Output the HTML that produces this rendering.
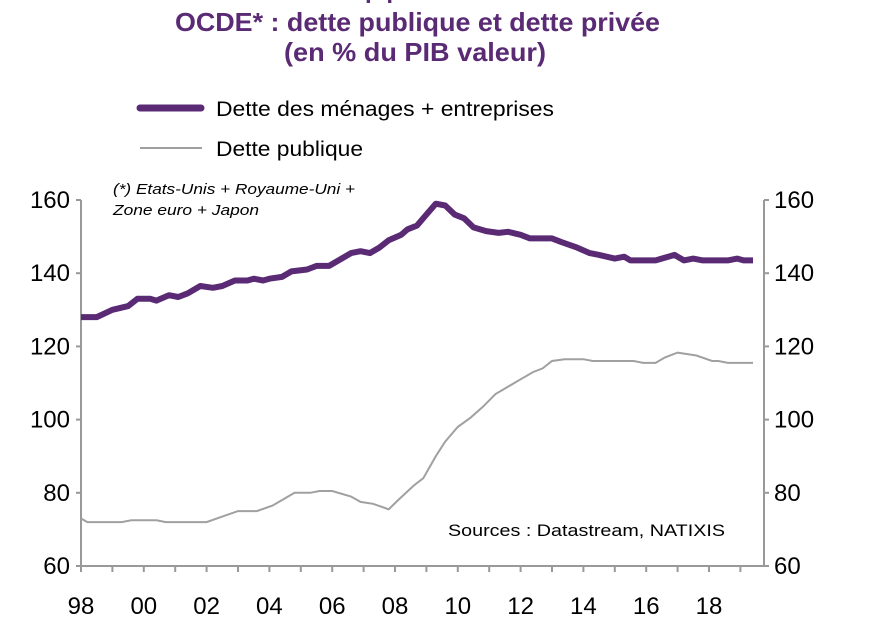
<!DOCTYPE html>
<html><head><meta charset="utf-8"><style>
body{margin:0;background:#fff;}
svg{display:block;font-family:"Liberation Sans",Arial,sans-serif;}
</style></head><body>
<svg id="s" width="874" height="632" viewBox="0 0 874 632">
<text x="365" y="-2" font-size="24" font-weight="bold" fill="#5a2a74">p p</text>
<text x="175" y="31" font-size="26" font-weight="bold" fill="#5a2a74" textLength="485" lengthAdjust="spacingAndGlyphs">OCDE* : dette publique et dette privée</text>
<text x="284" y="61" font-size="26" font-weight="bold" fill="#5a2a74" textLength="262" lengthAdjust="spacingAndGlyphs">(en % du PIB valeur)</text>
<line x1="140" y1="108" x2="201" y2="108" stroke="#5a2a74" stroke-width="7" stroke-linecap="round"/>
<text x="216" y="116" font-size="21" fill="#000" textLength="338" lengthAdjust="spacingAndGlyphs">Dette des ménages + entreprises</text>
<line x1="140" y1="148" x2="202" y2="148" stroke="#a0a0a0" stroke-width="2"/>
<text x="216" y="156" font-size="21" fill="#000" textLength="147" lengthAdjust="spacingAndGlyphs">Dette publique</text>
<text x="113" y="194" font-size="15" font-style="italic" fill="#000" textLength="242" lengthAdjust="spacingAndGlyphs">(*) Etats-Unis + Royaume-Uni +</text>
<text x="113" y="215" font-size="15" font-style="italic" fill="#000" textLength="146" lengthAdjust="spacingAndGlyphs">Zone euro + Japon</text>
<text x="448" y="536" font-size="17" fill="#000" textLength="277" lengthAdjust="spacingAndGlyphs">Sources  : Datastream,  NATIXIS</text>
<g id="ax" stroke="#999" stroke-width="2" fill="none"></g>
<g id="lbl" font-size="24" fill="#000"></g>
<polyline id="g" fill="none" stroke="#a0a0a0" stroke-width="2"/>
<polyline id="p" fill="none" stroke="#5a2a74" stroke-width="6" stroke-linejoin="round"/>
</svg>
<script>
var X=function(t){return 81+(t-1998)*31.4},Y=function(v){return 566-(v-60)*3.66};
var ax=document.getElementById('ax'),lb=document.getElementById('lbl'),h='',l='';
h+='<line x1="81" y1="200" x2="81" y2="566"/><line x1="764" y1="200" x2="764" y2="566"/><line x1="81" y1="566" x2="764" y2="566"/>';
for(var v=60;v<=160;v+=20){var y=Y(v);h+='<line x1="76" y1="'+y+'" x2="81" y2="'+y+'"/><line x1="764" y1="'+y+'" x2="769" y2="'+y+'"/>';
l+='<text x="70" y="'+(y+8)+'" text-anchor="end">'+v+'</text><text x="774" y="'+(y+8)+'">'+v+'</text>';}
for(var t=1998;t<=2019;t++){var x=X(t);h+='<line x1="'+x+'" y1="566" x2="'+x+'" y2="572"/>';
if(t%2==0){l+='<text x="'+x+'" y="614" text-anchor="middle">'+String(t).slice(2)+'</text>';}}
ax.innerHTML=h;lb.innerHTML=l;
var P=[[1998,128],[1998.5,128],[1999,130],[1999.5,131],[1999.8,133],[2000.2,133],[2000.4,132.5],[2000.8,134],[2001.1,133.5],[2001.4,134.5],[2001.8,136.5],[2002.2,136],[2002.5,136.5],[2002.9,138],[2003.3,138],[2003.5,138.5],[2003.8,138],[2004,138.5],[2004.4,139],[2004.7,140.5],[2005.2,141],[2005.5,142],[2005.9,142],[2006.3,144],[2006.6,145.5],[2006.9,146],[2007.2,145.5],[2007.5,147],[2007.8,149],[2008.2,150.5],[2008.4,152],[2008.7,153],[2009,156],[2009.3,159],[2009.6,158.5],[2009.9,156],[2010.2,155],[2010.5,152.5],[2010.9,151.5],[2011.3,151],[2011.6,151.3],[2012,150.5],[2012.3,149.5],[2013,149.5],[2013.3,148.5],[2013.8,147],[2014.2,145.5],[2014.5,145],[2015,144],[2015.3,144.5],[2015.5,143.5],[2016.3,143.5],[2016.7,144.5],[2016.9,145],[2017.2,143.5],[2017.5,144],[2017.8,143.5],[2018.6,143.5],[2018.9,144],[2019.1,143.5],[2019.4,143.5]];
var G=[[1998,73],[1998.2,72],[1999,72],[1999.3,72],[1999.6,72.5],[2000.4,72.5],[2000.7,72],[2002,72],[2002.5,73.5],[2003,75],[2003.6,75],[2004.1,76.5],[2004.5,78.5],[2004.8,80],[2005.3,80],[2005.6,80.5],[2006,80.5],[2006.6,79],[2006.9,77.5],[2007.3,77],[2007.8,75.5],[2008.1,78],[2008.6,82],[2008.9,84],[2009.3,90],[2009.6,94],[2010,98],[2010.4,100.5],[2010.8,103.5],[2011.2,107],[2011.6,109],[2012,111],[2012.4,113],[2012.7,114],[2013,116],[2013.4,116.5],[2014,116.5],[2014.3,116],[2015.6,116],[2015.9,115.5],[2016.3,115.5],[2016.6,117],[2017,118.3],[2017.6,117.5],[2018.1,116],[2018.3,116],[2018.6,115.5],[2019.4,115.5]];
function pts(a){return a.map(function(q){return X(q[0]).toFixed(1)+','+Y(q[1]).toFixed(1)}).join(' ')}
document.getElementById('p').setAttribute('points',pts(P));
document.getElementById('g').setAttribute('points',pts(G));
</script>
</body></html>
